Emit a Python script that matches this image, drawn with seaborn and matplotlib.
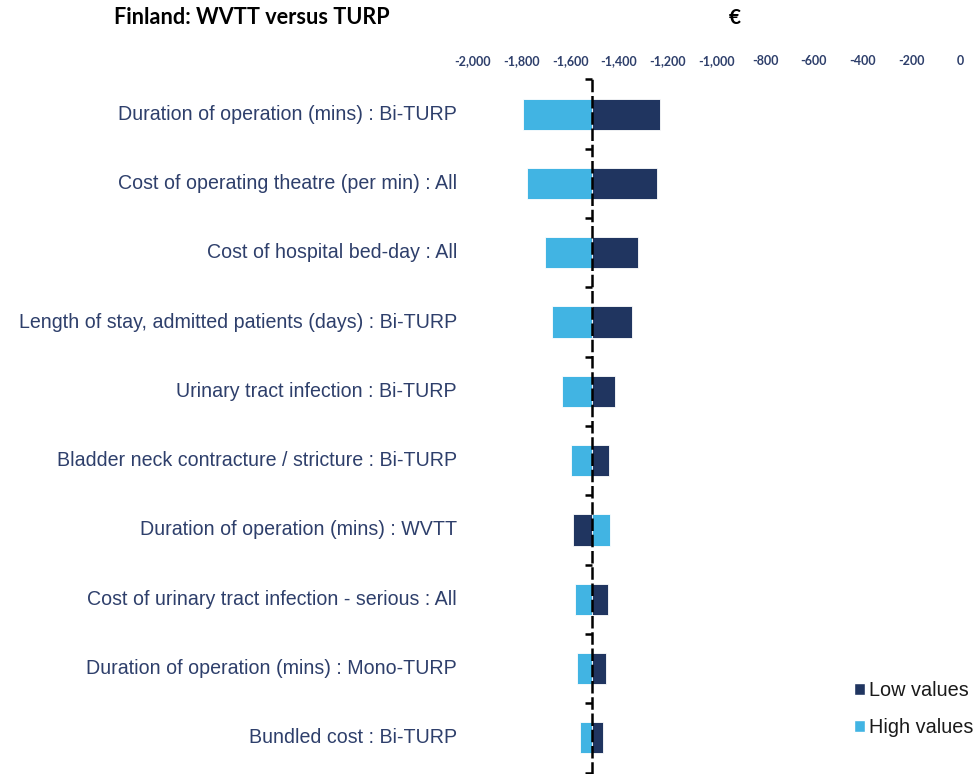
import numpy as np
import pandas as pd
import seaborn as sns
import matplotlib
matplotlib.use('Agg')
import matplotlib.pyplot as plt
from matplotlib.patches import Patch

# values (EUR)
parameters = ['Duration of operation (mins) : Bi-TURP',
              'Cost of operating theatre (per min) : All',
              'Cost of hospital bed-day : All',
              'Length of stay, admitted patients (days) : Bi-TURP',
              'Urinary tract infection : Bi-TURP',
              'Bladder neck contracture / stricture : Bi-TURP',
              'Duration of operation (mins) : WVTT',
              'Cost of urinary tract infection - serious : All',
              'Duration of operation (mins) : Mono-TURP',
              'Bundled cost : Bi-TURP']
low_values = [-1232, -1244, -1324, -1349, -1415, -1441, -1589, -1446, -1455, -1467]
high_values = [-1795, -1777, -1703, -1676, -1633, -1598, -1437, -1581, -1571, -1559]
base_value = -1511
x_ticks = list(range(-2000, 1, 200))

DARK = '#203560'
LIGHT = '#41b4e3'
NAVY = '#2e3f6b'

df = pd.DataFrame({'parameter': parameters,
                   'low': low_values,
                   'high': high_values})

sns.set_theme(style='white')

fig = plt.figure(figsize=(9.76, 7.74), dpi=100)
ax = fig.add_axes([473 / 976, 1 - 772.5 / 774, 487 / 976, 693 / 774])

ypos = np.arange(len(df))
ax.barh(ypos, df['high'] - base_value, left=base_value, height=0.45,
        color=LIGHT, edgecolor='white', linewidth=0.6, zorder=2)
ax.barh(ypos, df['low'] - base_value, left=base_value, height=0.45,
        color=DARK, edgecolor='white', linewidth=0.6, zorder=2)

ax.set_xlim(-2000, 0)
ax.set_ylim(len(df) - 0.5, -0.5)

# x axis on top, no line
ax.xaxis.tick_top()
ax.set_xticks(x_ticks)
ax.set_xticklabels([f'{t:,}' for t in x_ticks])
ax.tick_params(axis='x', length=0, pad=9, labelsize=9, labelcolor=NAVY)
for lab in ax.get_xticklabels():
    lab.set_fontfamily('Lato')
    lab.set_fontweight('bold')

# dashed vertical axis at the base value
for s in ['top', 'right', 'bottom']:
    ax.spines[s].set_visible(False)
ax.spines['left'].set_position(('data', base_value))
ax.spines['left'].set_linestyle((0, (4, 2.5)))
ax.spines['left'].set_linewidth(1.8)
ax.spines['left'].set_color('black')
ax.spines['left'].set_zorder(3)
ax.set_yticks([])
ax.set_yticks(np.arange(-0.5, len(df)), minor=True)
ax.tick_params(axis='y', which='minor', left=True, length=5, width=1.8,
               color='black', direction='out', labelleft=False)

# category labels
for y, name in zip(ypos, df['parameter']):
    ax.text(-0.033, y, name, transform=ax.get_yaxis_transform(),
            ha='right', va='center', fontsize=14.1, color=NAVY,
            fontfamily='Liberation Sans')

fig.text(114 / 976, 1 - 18 / 774, 'Finland: WVTT versus TURP',
         ha='left', va='center', fontsize=15.6, fontweight='bold',
         fontfamily='Lato', color='black')
fig.text(735 / 976, 1 - 18 / 774, '€', ha='center', va='center',
         fontsize=15, fontweight='bold', fontfamily='Lato', color='black')

handles = [Patch(facecolor=DARK, label='Low values'),
           Patch(facecolor=LIGHT, label='High values')]
leg = fig.legend(handles=handles, loc='center left',
                 bbox_to_anchor=(836 / 976, 1 - 709 / 774),
                 frameon=False, handlelength=0.55, handleheight=0.55,
                 handletextpad=0.2, labelspacing=0.9,
                 prop={'family': 'Liberation Sans', 'size': 14.3})
for t in leg.get_texts():
    t.set_color('#1a1a1a')

fig.savefig('out.png', dpi=100)
